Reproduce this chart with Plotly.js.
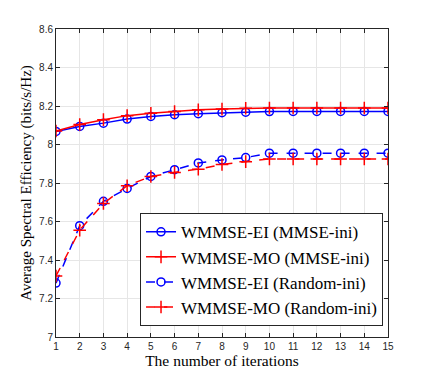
<!DOCTYPE html>
<html>
<head>
<meta charset="utf-8">
<script src="https://cdn.plot.ly/plotly-3.0.1.min.js"></script>
<style>
  body { margin: 0; padding: 0; background: #fff; }
  #chart { width: 429px; height: 379px; }
</style>
</head>
<body>
<div id="chart"></div>
<script>
// iterations
const iters = [1, 2, 3, 4, 5, 6, 7, 8, 9, 10, 11, 12, 13, 14, 15];

// spectral efficiency
const eiMmse = [8.068, 8.094, 8.111, 8.132, 8.146, 8.155, 8.160, 8.165, 8.168, 8.171, 8.172, 8.172, 8.172, 8.172, 8.172];
const moMmse = [8.070, 8.104, 8.129, 8.150, 8.162, 8.171, 8.180, 8.184, 8.188, 8.190, 8.190, 8.190, 8.190, 8.190, 8.190];
const eiRand = [7.280, 7.578, 7.705, 7.772, 7.834, 7.869, 7.904, 7.920, 7.932, 7.955, 7.955, 7.955, 7.955, 7.955, 7.955];
const moRand = [7.317, 7.555, 7.694, 7.786, 7.834, 7.855, 7.872, 7.896, 7.911, 7.925, 7.925, 7.925, 7.925, 7.925, 7.925];

const names = ['WMMSE-EI (MMSE-ini)', 'WMMSE-MO (MMSE-ini)', 'WMMSE-EI (Random-ini)', 'WMMSE-MO (Random-ini)'];

const blue = '#0000ff';
const red = '#ff0000';
const serif = "'Liberation Serif', 'Times New Roman', serif";

function series(y, name, color, dash, symbol) {
  return {
    x: iters,
    y: y,
    name: name,
    type: 'scatter',
    mode: 'lines+markers',
    line: { color: color, width: 1.5, dash: dash },
    marker: {
      symbol: symbol,
      size: symbol === 'circle-open' ? 8 : 9,
      color: color,
      line: { color: color, width: 1.5 }
    }
  };
}

const data = [
  series(eiMmse, names[0], blue, 'solid', 'circle-open'),
  series(moMmse, names[1], red, 'solid', 'cross-thin-open'),
  series(eiRand, names[2], blue, 'dash', 'circle-open'),
  series(moRand, names[3], red, 'dash', 'cross-thin-open')
];

const axisCommon = {
  showline: true,
  linecolor: '#262626',
  linewidth: 1,
  mirror: 'ticks',
  ticks: 'inside',
  ticklen: 4,
  tickcolor: '#262626',
  showgrid: true,
  gridcolor: '#e6e6e6',
  gridwidth: 1,
  zeroline: false,
  tickfont: { family: "'Liberation Sans', Arial, sans-serif", size: 10, color: '#262626' }
};

const layout = {
  width: 429,
  height: 379,
  margin: { l: 56, r: 41, t: 29, b: 42 },
  paper_bgcolor: '#fff',
  plot_bgcolor: '#fff',
  showlegend: true,
  xaxis: Object.assign({}, axisCommon, {
    range: [1, 15],
    dtick: 1,
    tick0: 1,
    title: { text: 'The number of iterations', standoff: 4,
      font: { family: serif, size: 15.5, color: '#000' } }
  }),
  yaxis: Object.assign({}, axisCommon, {
    range: [7, 8.6],
    dtick: 0.2,
    tick0: 7,
    title: { text: 'Average Spectral Efficiency (bits/s/Hz)', standoff: 3,
      font: { family: serif, size: 15, color: '#000' } }
  }),
  legend: {
    x: 0.985,
    y: 0.035,
    xanchor: 'right',
    yanchor: 'bottom',
    bgcolor: '#fff',
    bordercolor: '#262626',
    borderwidth: 1,
    tracegroupgap: 0,
    font: { family: serif, size: 17, color: '#000' }
  }
};

Plotly.newPlot('chart', data, layout, { displayModeBar: false, staticPlot: true });
</script>
</body>
</html>
